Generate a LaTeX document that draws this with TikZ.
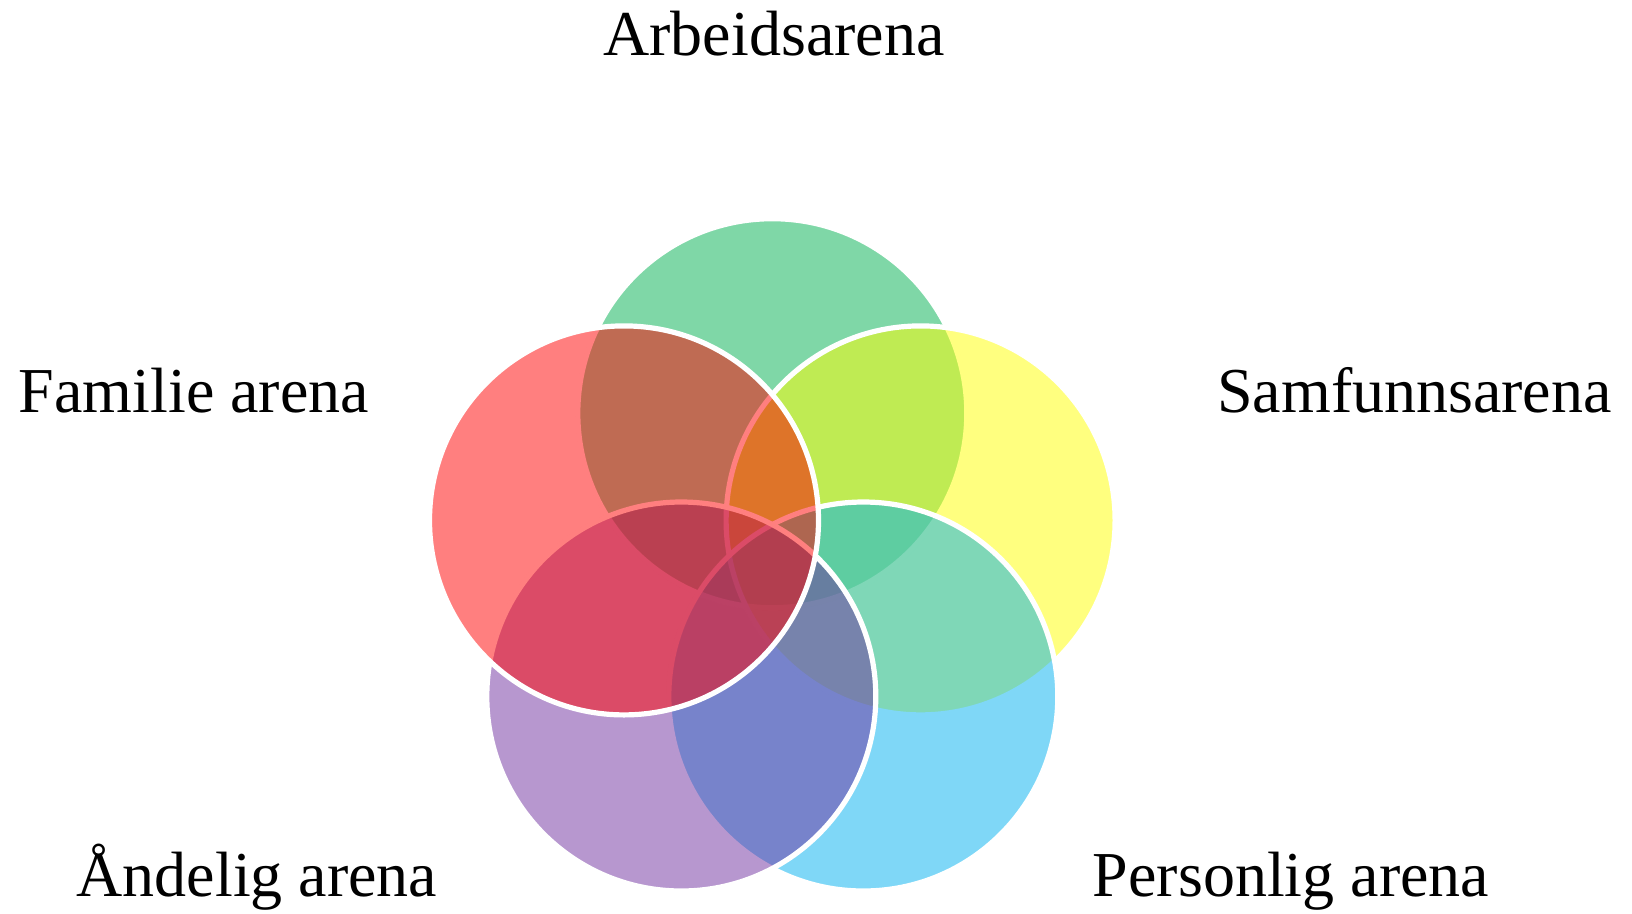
\documentclass[tikz,border=0pt]{standalone}
\usepackage{fontspec}
\setmainfont{Liberation Serif}
\definecolor{vgreen}{RGB}{0,176,80}
\definecolor{vyellow}{RGB}{255,255,0}
\definecolor{vred}{RGB}{255,0,0}
\definecolor{vblue}{RGB}{0,176,240}
\definecolor{vpurple}{RGB}{112,48,160}
\tikzset{
  venn/.style={circle, inner sep=0pt, outer sep=0pt, minimum size=389pt,
    draw=white, line width=5.2pt, fill opacity=0.5, draw opacity=1},
  lbl/.style={anchor=base, inner sep=0pt, font=\fontsize{64}{77}\selectfont}
}
\begin{document}
\begin{tikzpicture}[x=1pt,y=-1pt]
\useasboundingbox (0,0) rectangle (1632,913);
\node[venn, fill=vgreen]  (arbeid)   at (772.3,413.2) {};
\node[venn, fill=vyellow] (samfunn)  at (920.6,520.4) {};
\node[venn, fill=vblue]   (personlig) at (863.3,696.5) {};
\node[venn, fill=vpurple] (andelig)  at (681.3,696.5) {};
\node[venn, fill=vred]    (familie)  at (624.0,520.4) {};
\node[lbl] (tArbeid)    at (774,55)  {Arbeidsarena};
\node[lbl] (tFamilie)   at (194,412)   {Familie arena};
\node[lbl] (tSamfunn)   at (1414.5,412)  {Samfunnsarena};
\node[lbl] (tAndelig)   at (257,896)   {Åndelig arena};
\node[lbl] (tPersonlig) at (1291,896)  {Personlig arena};
\end{tikzpicture}
\end{document}
